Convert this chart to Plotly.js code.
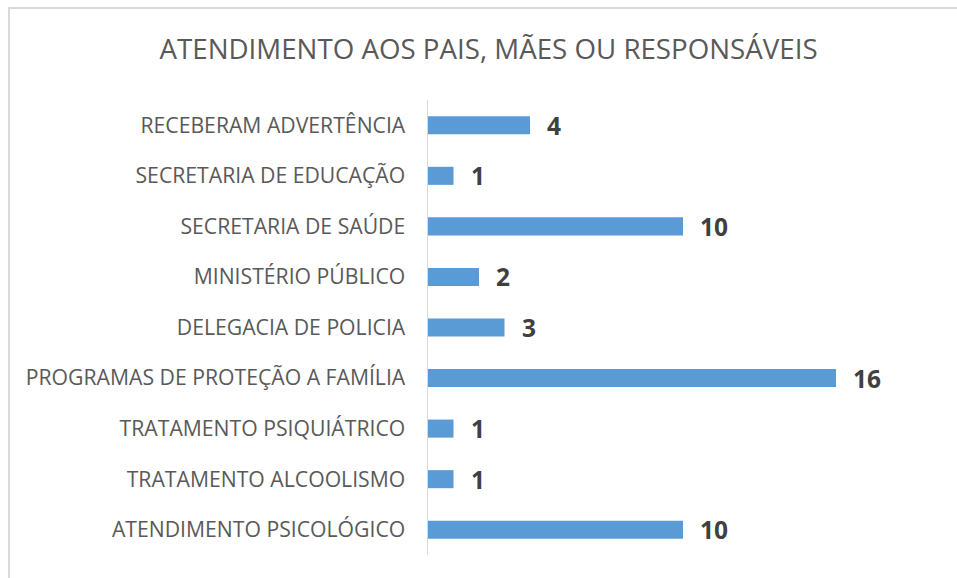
<!DOCTYPE html>
<html>
<head>
<meta charset="utf-8">
<script src="https://cdn.plot.ly/plotly-3.0.1.min.js"></script>
<style>
html,body{margin:0;padding:0;background:#fff;}
#chart{width:957px;height:578px;}
#frame{position:absolute;left:8px;top:7px;width:960px;height:600px;border:2px solid #d9d9d9;pointer-events:none;box-sizing:border-box;}
</style>
</head>
<body>
<div id="chart"></div>
<div id="frame"></div>
<script>
const categories = [
  "ATENDIMENTO PSICOLÓGICO",
  "TRATAMENTO ALCOOLISMO",
  "TRATAMENTO PSIQUIÁTRICO",
  "PROGRAMAS DE PROTEÇÃO A FAMÍLIA",
  "DELEGACIA DE POLICIA",
  "MINISTÉRIO PÚBLICO",
  "SECRETARIA DE SAÚDE",
  "SECRETARIA DE EDUCAÇÃO",
  "RECEBERAM ADVERTÊNCIA"
];
const values = [10, 1, 1, 16, 3, 2, 10, 1, 4];
const chartTitle = "ATENDIMENTO AOS PAIS, MÃES OU RESPONSÁVEIS";

const font = "Open Sans, sans-serif";

const trace = {
  type: "bar",
  orientation: "h",
  x: values,
  y: categories,
  marker: {color: "#5B9BD5"},
  hoverinfo: "none"
};

const annotations = values.map((v, i) => ({
  x: v, y: categories[i], xref: "x", yref: "y",
  text: String(v), showarrow: false,
  xanchor: "left", yanchor: "middle", xshift: 15,
  font: {family: font, size: 24.5, color: "#404040", weight: "bold"}
}));

const layout = {
  width: 957, height: 578,
  margin: {l: 428, r: 121, t: 100, b: 23.4, pad: 0},
  paper_bgcolor: "#fff", plot_bgcolor: "#fff",
  title: {
    text: chartTitle, xref: "container", x: 0.5105, xanchor: "center",
    yref: "container", y: 0.915, yanchor: "middle",
    font: {family: font, size: 27.7, color: "#595959"}
  },
  bargap: 0.643,
  showlegend: false,
  xaxis: {range: [0, 16], showgrid: false, zeroline: false, showticklabels: false, showline: false, fixedrange: true},
  yaxis: {
    type: "category", categoryorder: "array", categoryarray: categories,
    showline: true, linecolor: "#d9d9d9", linewidth: 1.5,
    showgrid: false, zeroline: false, ticks: "", ticklabelstandoff: 17,
    tickfont: {family: font, size: 21.2, color: "#595959"},
    fixedrange: true
  },
  annotations: annotations
};

Plotly.newPlot("chart", [trace], layout, {displayModeBar: false, staticPlot: true});
</script>
</body>
</html>
